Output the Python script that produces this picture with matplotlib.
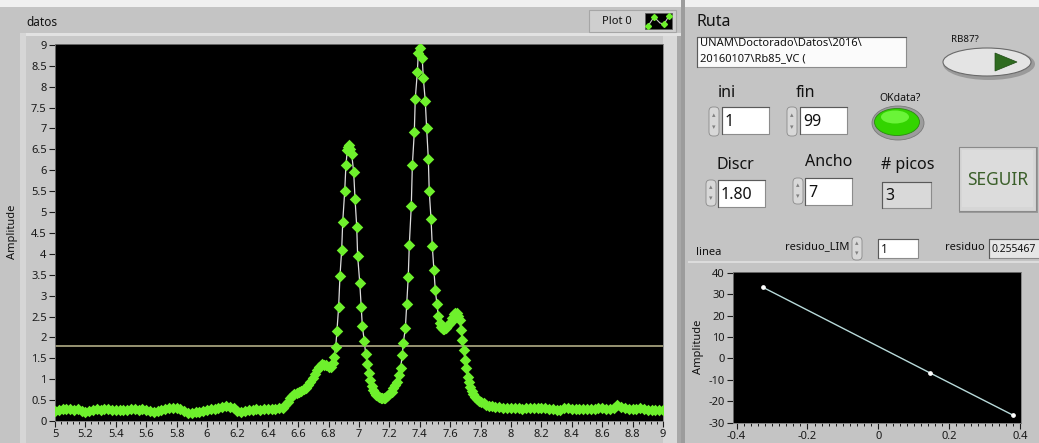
import matplotlib
matplotlib.use('Agg')
import matplotlib.pyplot as plt
from matplotlib.patches import Rectangle, Ellipse, FancyBboxPatch, Polygon
from matplotlib.ticker import MultipleLocator, FormatStrFormatter, FuncFormatter

# ---- main graph "datos" ----
base_left_x = [5.000, 5.025, 5.050, 5.075, 5.100, 5.125, 5.150, 5.175, 5.200, 5.225,
               5.250, 5.275, 5.300, 5.325, 5.350, 5.375, 5.400, 5.425, 5.450, 5.475,
               5.500, 5.525, 5.550, 5.575, 5.600, 5.625, 5.650, 5.675, 5.700, 5.725,
               5.750, 5.775, 5.800, 5.825, 5.850, 5.875, 5.900, 5.925, 5.950, 5.975,
               6.000, 6.025, 6.050, 6.075, 6.100, 6.125, 6.150, 6.175, 6.200, 6.225,
               6.250, 6.275, 6.300, 6.325, 6.350, 6.375, 6.400, 6.425, 6.450, 6.475,
               6.500]
base_left_y = [0.23, 0.26, 0.28, 0.28, 0.29, 0.27, 0.28, 0.25, 0.21, 0.24,
               0.27, 0.28, 0.27, 0.28, 0.28, 0.27, 0.26, 0.27, 0.26, 0.27,
               0.28, 0.28, 0.27, 0.28, 0.26, 0.25, 0.22, 0.24, 0.27, 0.29,
               0.31, 0.30, 0.30, 0.28, 0.23, 0.18, 0.19, 0.21, 0.22, 0.24,
               0.26, 0.28, 0.29, 0.31, 0.33, 0.36, 0.33, 0.30, 0.24, 0.21,
               0.24, 0.26, 0.27, 0.28, 0.27, 0.29, 0.28, 0.28, 0.29, 0.30,
               0.32]

rise_x = [6.515, 6.530, 6.545, 6.560, 6.575, 6.590, 6.605, 6.620, 6.635, 6.650,
          6.665, 6.680, 6.695, 6.710, 6.725, 6.740, 6.755, 6.770, 6.785, 6.800,
          6.815, 6.826]
rise_y = [0.38, 0.46, 0.54, 0.60, 0.65, 0.68, 0.70, 0.72, 0.76, 0.80,
          0.86, 0.94, 1.02, 1.12, 1.22, 1.30, 1.36, 1.34, 1.33, 1.30,
          1.30, 1.38]

peak_x = [6.836, 6.847, 6.855, 6.866, 6.875, 6.886, 6.893, 6.906, 6.914, 6.923,
          6.930, 6.936, 6.944, 6.952, 6.965, 6.974, 6.985, 6.991, 7.005, 7.015,
          7.022, 7.035, 7.044, 7.055, 7.066, 7.074, 7.084, 7.094, 7.104, 7.114,
          7.124, 7.134, 7.144, 7.154, 7.164, 7.174, 7.184, 7.194, 7.204, 7.214,
          7.226, 7.237, 7.248, 7.263, 7.274, 7.285, 7.291, 7.305, 7.314, 7.324,
          7.331, 7.344, 7.351, 7.364, 7.370, 7.384, 7.390, 7.401, 7.416, 7.423,
          7.436, 7.445, 7.456, 7.462, 7.474, 7.482, 7.493, 7.502, 7.513, 7.522,
          7.532, 7.542, 7.552, 7.562, 7.572, 7.582, 7.592, 7.602, 7.612, 7.622,
          7.632, 7.642, 7.652, 7.662, 7.670, 7.680, 7.688, 7.697, 7.706, 7.714,
          7.723, 7.732, 7.742, 7.752, 7.764, 7.776, 7.790, 7.805, 7.820, 7.838,
          7.856, 7.876, 7.898, 7.922, 7.948, 7.975, 8.000]
peak_y = [1.52, 1.78, 2.16, 2.73, 3.48, 4.09, 4.77, 5.50, 6.12, 6.48,
          6.56, 6.60, 6.50, 6.39, 5.95, 5.31, 4.65, 3.95, 3.31, 2.72,
          2.27, 1.91, 1.60, 1.36, 1.14, 0.98, 0.84, 0.74, 0.67, 0.62,
          0.59, 0.57, 0.56, 0.55, 0.54, 0.56, 0.60, 0.63, 0.66, 0.70,
          0.78, 0.86, 0.94, 1.10, 1.28, 1.58, 1.86, 2.22, 2.79, 3.45,
          4.22, 5.15, 6.12, 6.92, 7.70, 8.36, 8.80, 8.92, 8.68, 8.21,
          7.66, 7.00, 6.28, 5.50, 4.83, 4.19, 3.61, 3.13, 2.79, 2.51,
          2.34, 2.24, 2.19, 2.20, 2.23, 2.27, 2.31, 2.36, 2.46, 2.55,
          2.59, 2.59, 2.52, 2.42, 2.18, 1.94, 1.70, 1.46, 1.26, 1.06,
          0.94, 0.82, 0.72, 0.64, 0.58, 0.53, 0.48, 0.45, 0.42, 0.39,
          0.37, 0.35, 0.34, 0.33, 0.32, 0.31, 0.30]

base_right_x = [8.025, 8.050, 8.075, 8.100, 8.125, 8.150, 8.175, 8.200, 8.225, 8.250,
                8.275, 8.300, 8.325, 8.350, 8.375, 8.400, 8.425, 8.450, 8.475, 8.500,
                8.525, 8.550, 8.575, 8.600, 8.625, 8.650, 8.675, 8.700, 8.725, 8.750,
                8.775, 8.800, 8.825, 8.850, 8.875, 8.900, 8.925, 8.950, 8.975, 9.000]
base_right_y = [0.30, 0.30, 0.29, 0.30, 0.30, 0.30, 0.31, 0.30, 0.30, 0.29,
                0.29, 0.27, 0.27, 0.32, 0.31, 0.29, 0.28, 0.28, 0.29, 0.28,
                0.28, 0.29, 0.30, 0.30, 0.29, 0.28, 0.32, 0.38, 0.34, 0.31,
                0.29, 0.28, 0.29, 0.30, 0.29, 0.27, 0.26, 0.26, 0.26, 0.26]

discr = 1.80

# ---- small graph "linea" ----
linea_x = [-0.325, 0.146, 0.380]
linea_y = [33.1, -6.8, -26.5]

# ---- front panel values ----
ruta_text = "UNAM\\Doctorado\\Datos\\2016\\\n20160107\\Rb85_VC ("
ini_val = "1"
fin_val = "99"
discr_val = "1.80"
ancho_val = "7"
picos_val = "3"
residuo_lim_val = "1"
residuo_val = "0.255467"

datos_x = base_left_x + rise_x + peak_x + base_right_x
datos_y = base_left_y + rise_y + peak_y + base_right_y

W, H = 1039, 443
PANEL = '#c4c4c4'
plt.rcParams['font.family'] = ['Noto Sans', 'DejaVu Sans']
fig = plt.figure(figsize=(W / 100, H / 100), dpi=100)
fig.patch.set_facecolor(PANEL)

bg = fig.add_axes([0, 0, 1, 1])
bg.set_xlim(0, W)
bg.set_ylim(H, 0)
bg.axis('off')


def px_axes(x0, y0, x1, y1):
    return fig.add_axes([x0 / W, 1 - y1 / H, (x1 - x0) / W, (y1 - y0) / H])


def rect(x0, y0, x1, y1, fc, ec='none', lw=0.8, z=1):
    bg.add_patch(Rectangle((x0, y0), x1 - x0, y1 - y0, fc=fc, ec=ec, lw=lw, zorder=z))


def spinner(xc, y0, y1):
    bg.add_patch(FancyBboxPatch((xc - 5, y0), 10, y1 - y0,
                                boxstyle='round,pad=0,rounding_size=4',
                                fc='#d8d8d8', ec='#8a8a8a', lw=0.6, zorder=2))
    bg.text(xc, y0 + (y1 - y0) * 0.28, '\u25b4', fontsize=5, color='#808080',
            ha='center', va='center', zorder=3)
    bg.text(xc, y0 + (y1 - y0) * 0.72, '\u25be', fontsize=5, color='#808080',
            ha='center', va='center', zorder=3)


def numbox(x0, y0, x1, y1, txt, fc='white', size=11.5, pad=3):
    rect(x0, y0, x1, y1, fc, ec='#8c8c8c', lw=0.8, z=2)
    bg.plot([x0, x0, x1], [y1, y0, y0], color='#5a5a5a', lw=0.8, zorder=3)
    bg.text(x0 + pad, (y0 + y1) / 2 + 1, txt, fontsize=size, color='#111111',
            ha='left', va='center', zorder=3)


# panel decoration
rect(0, 0, W, 7, '#f0f0f0')
rect(20, 33, 682, H, '#c8c8c8')
rect(20, 33, 682, 36, '#e2e2e2')
rect(20, 33, 26, H, '#d6d6d6')
rect(663, 36, 681, H, '#d9d9d9')
rect(677, 36, 681, H, '#a8a8a8')
rect(681, 0, 685, H, '#9c9c9c')
rect(688, 261, W, 263, '#dcdcdc')

bg.text(26, 22, 'datos', fontsize=8.5, color='#111111', va='center')

# legend box "Plot 0"
rect(589, 10, 676, 32, '#cfcfcf', ec='#a6a6a6', lw=0.8)
bg.text(617, 21, 'Plot 0', fontsize=8, color='#111111', ha='center', va='center')
rect(645, 13, 672, 29, 'black', ec='#606060', lw=0.6, z=2)
bg.plot([648, 654, 660, 664, 669], [26, 17, 23, 24, 16], color='#c8c8c8', lw=0.8, zorder=3)
bg.plot([648, 654, 664, 669], [26, 17, 24, 16], ls='none', marker='D', ms=3,
        color='#6ef02c', zorder=4)

# main graph
ax = px_axes(55, 44, 663, 421)
ax.set_facecolor('black')
ax.plot(datos_x, datos_y, color='#dcdcdc', lw=0.9, zorder=2)
ax.plot(datos_x, datos_y, ls='none', marker='D', ms=3.8,
        mfc='#6ef02c', mec='#6ef02c', mew=1.8, zorder=3)
ax.axhline(discr, color='#a39f7c', lw=1.3, zorder=2.5)
ax.set_xlim(5, 9)
ax.set_ylim(0, 9.02)
ax.xaxis.set_major_locator(MultipleLocator(0.2))
ax.xaxis.set_minor_locator(MultipleLocator(0.04))
ax.yaxis.set_major_locator(MultipleLocator(0.5))
ax.xaxis.set_major_formatter(FuncFormatter(lambda v, p: '%g' % round(v, 2)))
ax.yaxis.set_major_formatter(FuncFormatter(lambda v, p: '%g' % round(v, 2)))
ax.tick_params(axis='both', which='major', labelsize=8, colors='#1a1a1a',
               length=4, width=0.8, pad=2)
ax.tick_params(axis='x', which='minor', length=2.5, width=0.7, colors='#1a1a1a')
for s in ax.spines.values():
    s.set_color('#7a7a7a')
    s.set_linewidth(0.6)
bg.text(12, 232, 'Amplitude', rotation=90, fontsize=8, color='#111111',
        ha='center', va='center')

# right panel controls
bg.text(697, 22, 'Ruta', fontsize=11.5, color='#111111', va='center')
rect(697, 37, 906, 67, '#fbfbfb', ec='#8c8c8c', lw=0.8, z=2)
bg.plot([697, 697, 906], [67, 37, 37], color='#5a5a5a', lw=0.8, zorder=3)
bg.text(700, 51, ruta_text, fontsize=8, color='#111111', va='center',
        linespacing=1.45, zorder=3)

bg.text(965, 39, 'RB87?', fontsize=7, color='#111111', ha='center', va='center')
bg.add_patch(Ellipse((989, 64), 92, 32, fc='#9a9a9a', ec='none', zorder=2))
bg.add_patch(Ellipse((987, 62), 88, 28, fc='#e4e4e4', ec='#6a6a6a', lw=0.8, zorder=3))
bg.add_patch(Polygon([(995, 53), (995, 71), (1017, 62)], closed=True,
                     fc='#2f6b20', ec='#1f4a15', lw=0.5, zorder=4))

bg.text(727, 93, 'ini', fontsize=11.5, color='#111111', ha='center', va='center')
spinner(714, 107, 136)
numbox(722, 107, 769, 134, ini_val)
bg.text(805, 93, 'fin', fontsize=11.5, color='#111111', ha='center', va='center')
spinner(792, 107, 136)
numbox(800, 107, 847, 134, fin_val)

bg.text(900, 98, 'OKdata?', fontsize=7.5, color='#111111', ha='center', va='center')
bg.add_patch(Ellipse((898, 123), 52, 34, fc='#9c9c9c', ec='#7a7a7a', lw=0.6, zorder=2))
bg.add_patch(Ellipse((897, 122), 45, 27, fc='#33d400', ec='#2a8a10', lw=0.6, zorder=3))
bg.add_patch(Ellipse((895, 117), 28, 13, fc='#7dff4c', ec='none', alpha=0.75, zorder=4))

bg.text(735, 165, 'Discr', fontsize=11.5, color='#111111', ha='center', va='center')
spinner(711, 180, 206)
numbox(718, 180, 765, 207, discr_val)
bg.text(829, 162, 'Ancho', fontsize=11.5, color='#111111', ha='center', va='center')
spinner(798, 178, 204)
numbox(805, 178, 852, 205, ancho_val)
bg.text(908, 165, '# picos', fontsize=11.5, color='#111111', ha='center', va='center')
numbox(882, 182, 931, 208, picos_val, fc='#d9d9d9')

rect(959, 147, 1038, 213, '#9a9a9a')
rect(959, 147, 1036, 211, '#d6d6d6', ec='#8a8a8a', lw=0.8)
rect(962, 150, 1033, 207, '#dcdcdc')
bg.text(998, 180, 'SEGUIR', fontsize=12.5, color='#3b5f2a', ha='center', va='center')

# lower right: linea graph
bg.text(696, 252, 'linea', fontsize=8, color='#111111', va='center')
bg.text(850, 247, 'residuo_LIM', fontsize=8, color='#111111', ha='right', va='center')
spinner(857, 237, 260)
numbox(878, 239, 918, 258, residuo_lim_val, size=8.5)
bg.text(985, 247, 'residuo', fontsize=8, color='#111111', ha='right', va='center')
numbox(989, 239, 1045, 258, residuo_val, fc='#e6e6e6', size=7.5, pad=2)

ax2 = px_axes(733, 272, 1021, 423)
ax2.set_facecolor('black')
ax2.plot(linea_x, linea_y, color='#b8dada', lw=1.0, marker='o', ms=2.4,
         mfc='white', mec='white')
ax2.set_xlim(-0.41, 0.402)
ax2.set_ylim(-30.1, 40.3)
ax2.xaxis.set_major_locator(MultipleLocator(0.2))
ax2.xaxis.set_minor_locator(MultipleLocator(0.02))
ax2.yaxis.set_major_locator(MultipleLocator(10))
ax2.xaxis.set_major_formatter(FuncFormatter(lambda v, p: '%g' % round(v, 2)))
ax2.yaxis.set_major_formatter(FormatStrFormatter('%d'))
ax2.tick_params(axis='both', which='major', labelsize=8, colors='#1a1a1a',
                length=4, width=0.8, pad=2)
ax2.tick_params(axis='x', which='minor', length=2.5, width=0.7, colors='#1a1a1a')
for s in ax2.spines.values():
    s.set_color('#7a7a7a')
    s.set_linewidth(0.6)
bg.text(699, 347, 'Amplitude', rotation=90, fontsize=8, color='#111111',
        ha='center', va='center')

fig.savefig('out.png', dpi=100, facecolor=fig.get_facecolor())
